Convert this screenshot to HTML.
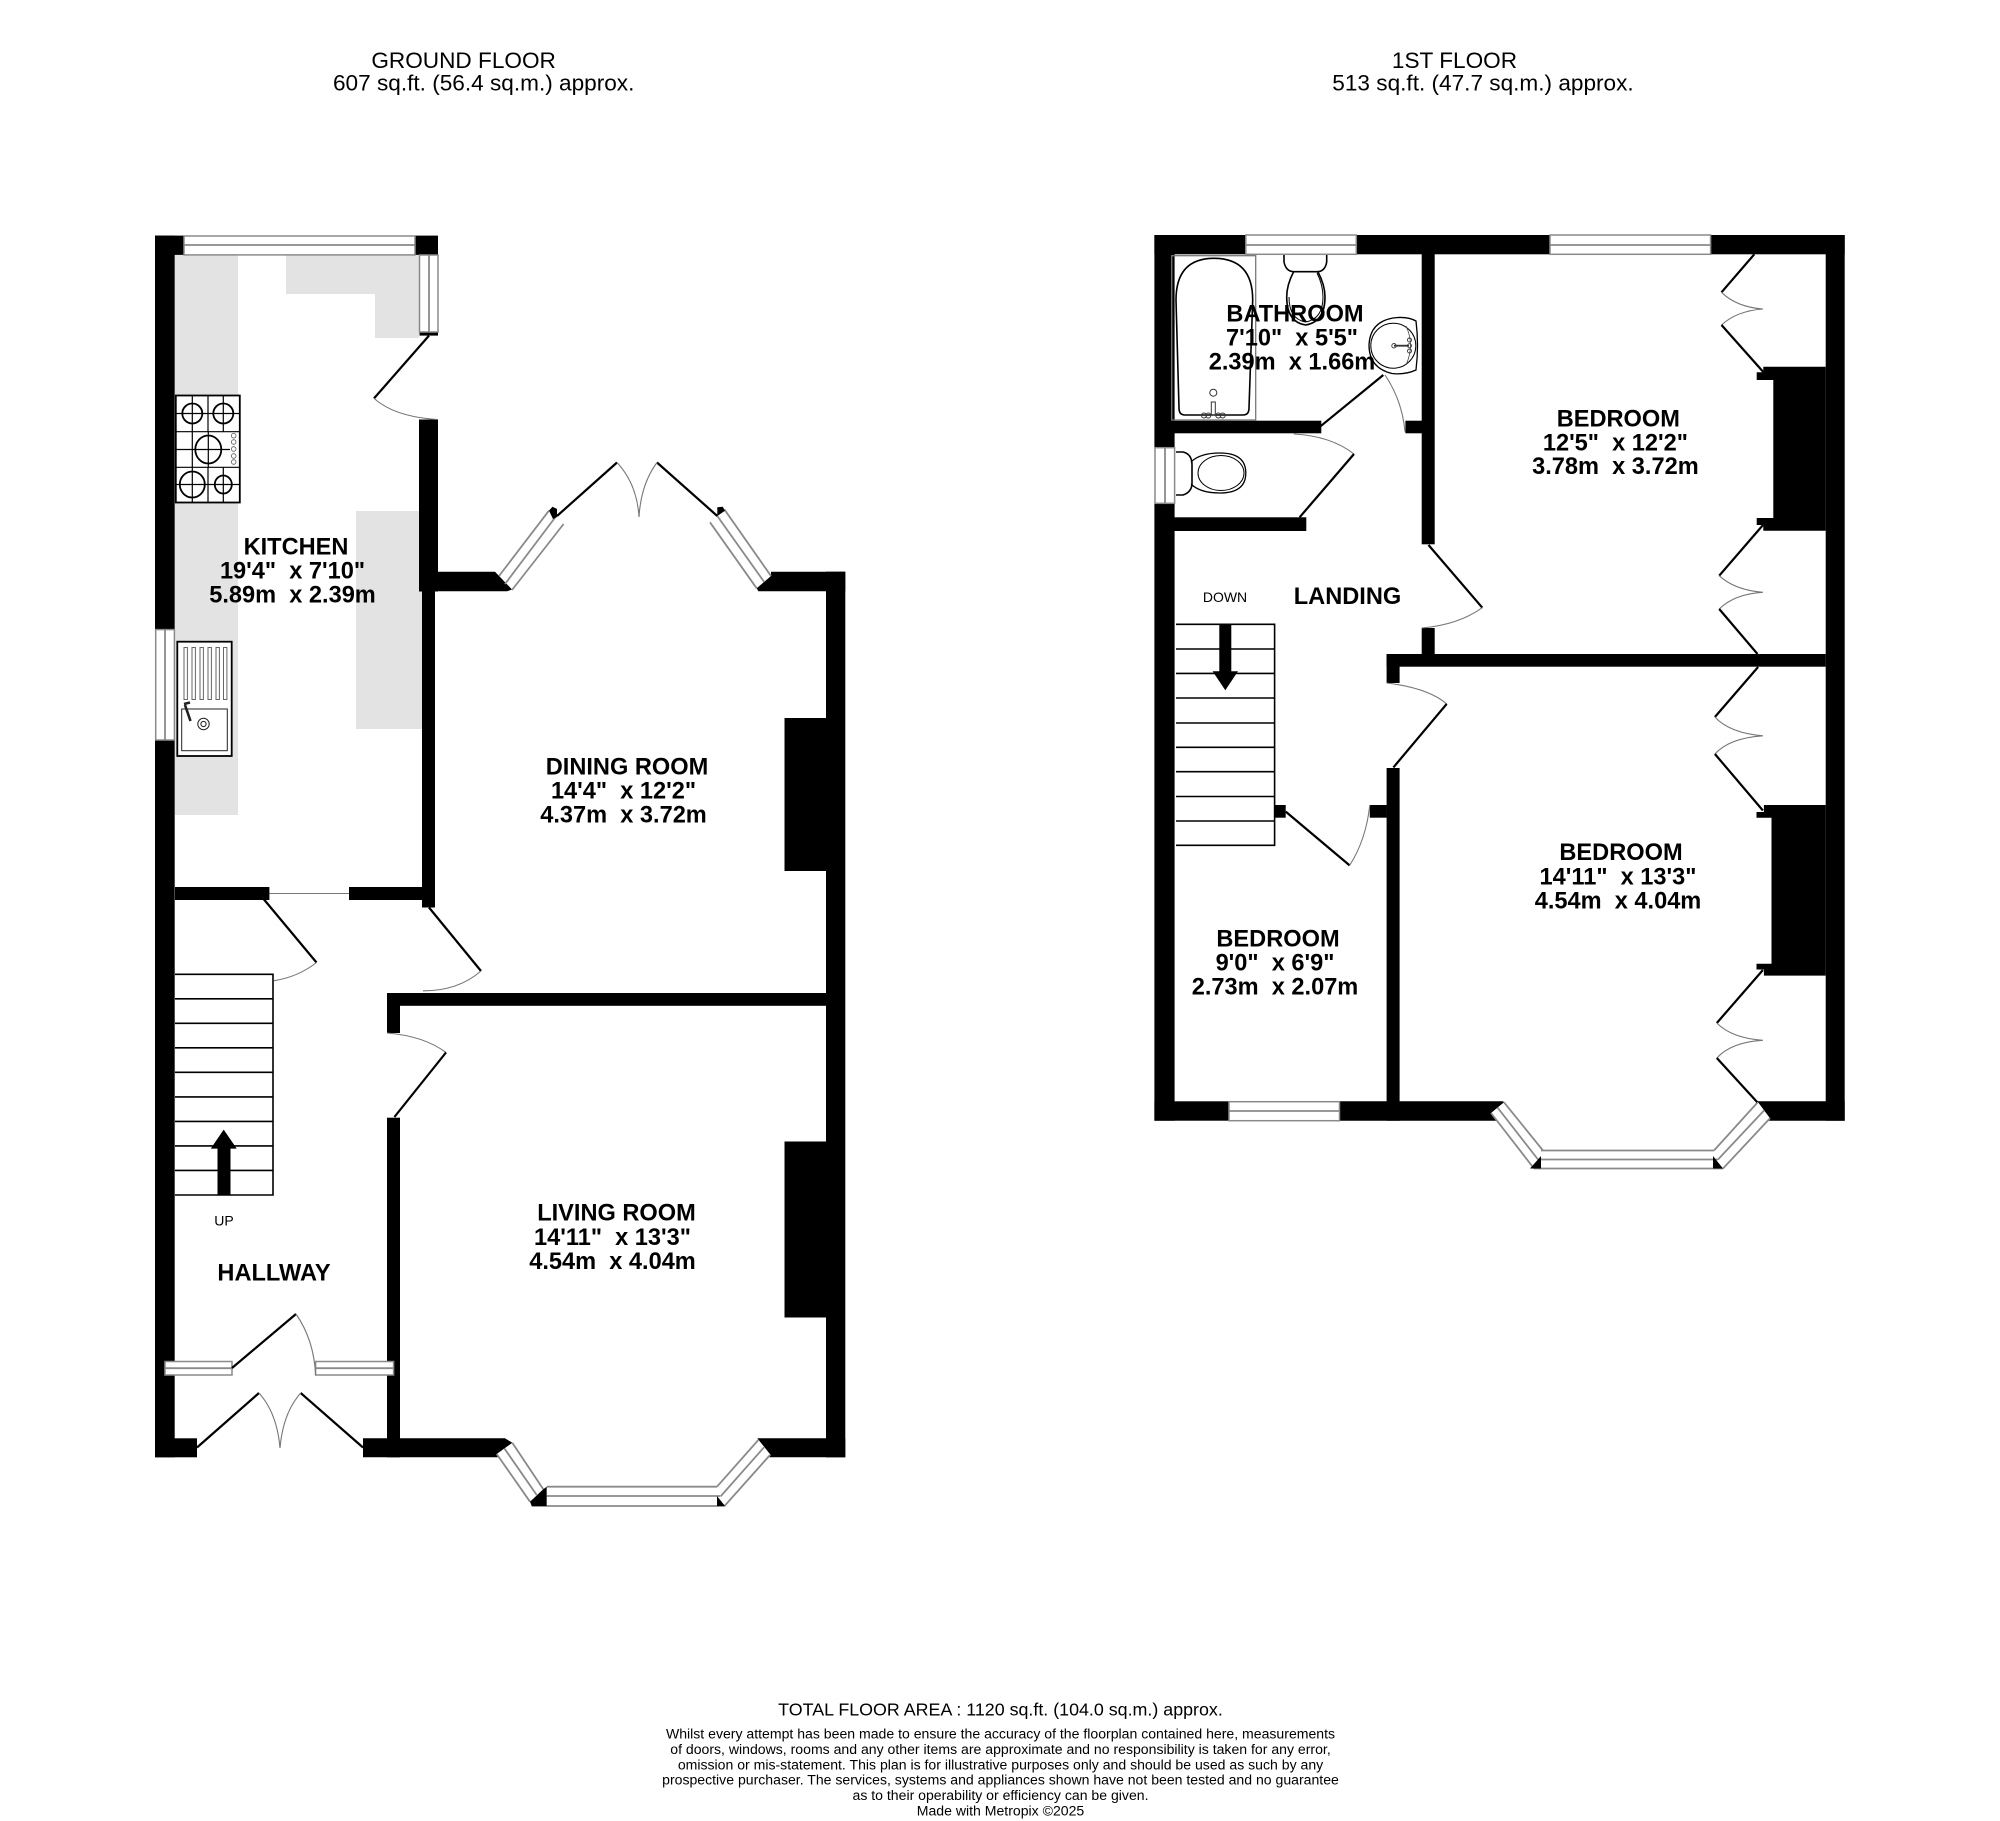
<!DOCTYPE html>
<html><head><meta charset="utf-8">
<style>
html,body{margin:0;padding:0;background:#fff}
svg{display:block}
text{font-family:"Liberation Sans",sans-serif;fill:#000;text-anchor:middle;white-space:pre}
.b{font-weight:bold;font-size:23.6px}
.t{font-size:22.6px}
.f{font-size:17.85px}
.d{font-size:14.07px}
.s{font-size:14px}
.w{fill:#fff;stroke:#8a8a8a;stroke-width:1.5}
.m{fill:none;stroke:#8a8a8a;stroke-width:1.8}
.l{fill:none;stroke:#000;stroke-width:2.2}
.a{fill:none;stroke:#777;stroke-width:1.1}
.n{fill:none;stroke:#000;stroke-width:1.6}
.h{fill:none;stroke:#000;stroke-width:1.8}
.g{fill:none;stroke:#000;stroke-width:1.2}
</style></head><body>
<svg width="2000" height="1821" viewBox="0 0 2000 1821" xmlns="http://www.w3.org/2000/svg">
<rect width="2000" height="1821" fill="#fff"/>

<!-- titles -->
<text class="t" x="463.6" y="68">GROUND FLOOR</text>
<text class="t" x="483.7" y="90.5">607 sq.ft. (56.4 sq.m.) approx.</text>
<text class="t" x="1454.5" y="68">1ST FLOOR</text>
<text class="t" x="1483" y="90.5">513 sq.ft. (47.7 sq.m.) approx.</text>

<!-- kitchen counters -->
<g fill="#e3e3e3">
<rect x="175" y="255" width="63" height="560"/>
<path d="M286 255H419V338H375V294H286Z"/>
<rect x="356" y="511" width="66" height="218"/>
</g>

<!-- GROUND FLOOR walls -->
<g fill="#000">
<rect x="155" y="235.6" width="19.7" height="394"/>
<rect x="155" y="740" width="19.7" height="717.3"/>
<rect x="155" y="235.6" width="29" height="19.3"/>
<rect x="415" y="235.6" width="23" height="19.3"/>
<rect x="419.5" y="332" width="18.5" height="3.6"/>
<rect x="419" y="419.5" width="19" height="172"/>
<rect x="422" y="590" width="13" height="317.5"/>
<path d="M435 571.7H495L512 589.5L507 591.3H435Z"/>
<path d="M771 571.7H845.3V591.3H758.3L756.7 588.3L771 576Z"/>
<rect x="826" y="571.7" width="19.3" height="885.6"/>
<rect x="784.5" y="718" width="41.5" height="153"/>
<rect x="784.5" y="1141.5" width="41.5" height="176"/>
<rect x="175" y="887" width="94.4" height="13"/>
<rect x="349" y="887" width="73" height="13"/>
<rect x="387" y="993" width="439" height="12.8"/>
<rect x="387" y="993" width="13" height="40"/>
<rect x="387" y="1117.7" width="13" height="339.6"/>
<rect x="155" y="1438.3" width="42" height="19"/>
<path d="M363 1438.3H505L512.3 1442.7L496.7 1454L498 1457.3H363Z"/>
<path d="M757.3 1438.3H845.3V1457.3H769.3L770.7 1455Z"/>
</g>

<!-- ground floor windows -->
<rect class="w" x="184" y="236" width="231" height="18.9"/>
<line class="m" x1="184" y1="245" x2="415" y2="245"/>
<rect class="w" x="419.5" y="255" width="18.5" height="77"/>
<line class="m" x1="429" y1="255" x2="429" y2="332"/>
<rect class="w" x="155.7" y="629.6" width="18.7" height="110.4"/>
<line class="m" x1="165" y1="629.6" x2="165" y2="740"/>
<rect class="w" x="165" y="1361.5" width="67" height="13.5"/>
<line class="m" x1="165" y1="1368.2" x2="232" y2="1368.2"/>
<rect class="w" x="315.6" y="1361.5" width="78" height="13.5"/>
<line class="m" x1="315.6" y1="1368.2" x2="393.6" y2="1368.2"/>
<!-- dining bay side windows -->
<path class="m" d="M499 576L549 510.6M505 584L555.5 517M512 590L563.6 524"/>
<path class="m" d="M771 576L724.3 509.3M764 581.7L717.3 516M756.7 588.3L710 522.3"/>
<!-- living bay -->
<path class="m" d="M512.3 1442.7L543.3 1489.3M504.3 1448.3L536.7 1495M496.7 1454L530 1501.7"/>
<path class="m" d="M546.7 1486.7H717M546.7 1496H720M531.7 1506H724.5"/>
<path class="m" d="M758.3 1440L717 1486.7M764 1447.3L720.5 1496.5M770 1455L724.5 1506"/>
<g fill="#000">
<path d="M543.3 1489.3L546.7 1486.7V1506H531.7L530 1501.7Z"/>
<path d="M717 1496V1506H725L721 1501Z"/>
<path d="M549 510.6L552.5 506.7L557 509L557 517L553 519Z"/>
<path d="M717.3 507.3L722.7 506.7L725 510.7L717.3 516Z"/>
</g>
<line class="a" x1="269.4" y1="893.5" x2="349" y2="893.5"/>

<!-- ground doors -->
<path class="l" d="M429 335.6L374 398.4"/>
<path class="a" d="M374 398.4Q395 417 438 419.5"/>
<path class="l" d="M557 516L617 462.5"/>
<path class="a" d="M617 462.5Q637 484 639 517"/>
<path class="l" d="M717.3 516L657 462.5"/>
<path class="a" d="M657 462.5Q641 484 639 517"/>
<path class="l" d="M263.6 899L316.5 962.5"/>
<path class="a" d="M316.5 962.5Q298 977 274 980.7"/>
<path class="l" d="M429 907.5L481 971"/>
<path class="a" d="M481 971Q458 991 423 990.8"/>
<path class="a" d="M387 1033Q424 1036 446 1052.5"/>
<path class="l" d="M446 1052.5L394.4 1117"/>
<path class="l" d="M232 1368L296 1314"/>
<path class="a" d="M296 1314Q314 1340 315.6 1375"/>
<path class="l" d="M197 1447.5L259 1393"/>
<path class="a" d="M259 1393Q277 1413 280 1448"/>
<path class="l" d="M363 1447.5L300.7 1393"/>
<path class="a" d="M300.7 1393Q283 1413 280 1448"/>

<!-- ground stairs -->
<g stroke="#000" stroke-width="1.6" fill="none">
<path d="M175 974.3H273V1195H175"/>
<path d="M175 998.8H273M175 1023.3H273M175 1047.8H273M175 1072.3H273M175 1096.9H273M175 1121.4H273M175 1145.9H273M175 1170.4H273"/>
</g>
<path d="M217.5 1195V1148.6H210.8L223.7 1129.6L236.7 1148.6H230.5V1195Z" fill="#000"/>

<!-- hob -->
<g>
<rect x="175.8" y="395.5" width="64" height="107" fill="#fff" stroke="#000" stroke-width="1.8"/>
<path class="g" d="M176 431.7H240M176 467.3H240M176 413.5H240M176 449.5H230M176 484.5H240M208 396V431.7M208 467.3V503M192.3 396V503M223.3 396V431.7M223.3 467.3V503M208.3 431.7V467.3"/>
<circle class="h" cx="192.3" cy="413.5" r="10"/>
<circle class="h" cx="223.3" cy="413.5" r="10"/>
<ellipse class="h" cx="208.3" cy="449.5" rx="13" ry="14"/>
<ellipse class="h" cx="192.3" cy="484.5" rx="12.5" ry="13"/>
<ellipse class="h" cx="223.3" cy="484.5" rx="8.5" ry="9"/>
<g fill="#fff" stroke="#555" stroke-width=".8">
<circle cx="233.7" cy="435.7" r="2.3"/><circle cx="233.7" cy="442" r="2.3"/><circle cx="233.7" cy="449" r="2.3"/><circle cx="233.7" cy="456" r="2.3"/><circle cx="233.7" cy="462" r="2.3"/>
</g>
</g>

<!-- sink -->
<g>
<rect x="177.3" y="641.7" width="54.4" height="114.3" fill="#fff" stroke="#000" stroke-width="1.8"/>
<g fill="none" stroke="#666" stroke-width="1">
<rect x="184" y="647.5" width="3.4" height="52"/>
<rect x="192" y="647.5" width="3.4" height="52"/>
<rect x="200" y="647.5" width="3.4" height="52"/>
<rect x="208" y="647.5" width="3.4" height="52"/>
<rect x="216" y="647.5" width="3.4" height="52"/>
<rect x="223.5" y="647.5" width="3.4" height="52"/>
</g>
<rect x="181.7" y="709" width="45.6" height="41.7" fill="#fff" stroke="#222" stroke-width="1"/>
<circle cx="203.5" cy="724" r="5.7" fill="none" stroke="#222"/>
<circle cx="203.5" cy="724" r="2.6" fill="none" stroke="#222"/>
<path d="M184 704L190 702.5M185 705L190.5 721" stroke="#222" stroke-width="2.6" fill="none"/>
</g>

<!-- ground labels -->
<text class="b" x="296" y="554.5">KITCHEN</text>
<text class="b" x="292.5" y="578.5">19'4"  x 7'10"</text>
<text class="b" x="292.5" y="602.5">5.89m  x 2.39m</text>
<text class="b" x="627" y="774.5">DINING ROOM</text>
<text class="b" x="623.5" y="798.5">14'4"  x 12'2"</text>
<text class="b" x="623.5" y="822.5">4.37m  x 3.72m</text>
<text class="b" x="616.5" y="1220.5">LIVING ROOM</text>
<text class="b" x="612.5" y="1245">14'11"  x 13'3"</text>
<text class="b" x="612.5" y="1269">4.54m  x 4.04m</text>
<text class="b" x="274" y="1280.5">HALLWAY</text>
<text class="s" x="224" y="1225.5">UP</text>

<!-- FIRST FLOOR walls -->
<g fill="#000">
<rect x="1154.4" y="235" width="20.2" height="212.7"/>
<rect x="1154.4" y="503.3" width="20.2" height="617.4"/>
<rect x="1825.7" y="235" width="19" height="885.7"/>
<rect x="1154.4" y="235" width="91.4" height="19.3"/>
<rect x="1356.3" y="235" width="193.7" height="19.3"/>
<rect x="1710.6" y="235" width="134.1" height="19.3"/>
<rect x="1421.7" y="235" width="13" height="309.3"/>
<rect x="1421.7" y="628" width="13" height="30"/>
<rect x="1174" y="420.7" width="147.3" height="12.6"/>
<rect x="1405.4" y="420.7" width="17" height="12.6"/>
<rect x="1174" y="517.3" width="132.3" height="13.7"/>
<rect x="1386.6" y="654" width="439.1" height="12.7"/>
<rect x="1386.6" y="654" width="13" height="29"/>
<rect x="1386.6" y="768" width="13" height="352.7"/>
<rect x="1274.6" y="805" width="11.1" height="12.7"/>
<rect x="1369.8" y="805" width="17" height="12.7"/>
<!-- chimney 1 -->
<path d="M1763.3 366.7H1825.7V530.7H1763.3V525H1756.7V518H1773.3V380H1756.7V372.3H1763.3Z"/>
<!-- chimney 2 -->
<path d="M1763.9 805H1825.7V975.6H1763.9V969.5H1756.5V963.8H1771.5V817.7H1756.5V812H1763.9Z"/>
<rect x="1154.4" y="1101.3" width="74.6" height="19.4"/>
<path d="M1339.5 1101.3H1503L1504 1102.3L1491 1113L1497 1120.7H1339.5Z"/>
<path d="M1757.3 1101.3H1844.7V1120.7H1767.5L1770 1118.3Z"/>
</g>

<!-- first floor windows -->
<rect class="w" x="1245.8" y="235" width="110.5" height="19.3"/>
<line class="m" x1="1245.8" y1="245" x2="1356.3" y2="245"/>
<rect class="w" x="1550" y="235" width="160.6" height="19.3"/>
<line class="m" x1="1550" y1="245" x2="1710.6" y2="245"/>
<rect class="w" x="1155" y="447.7" width="19.6" height="55.6"/>
<line class="m" x1="1165" y1="447.7" x2="1165" y2="503.3"/>
<rect class="w" x="1229" y="1101.7" width="110.5" height="19"/>
<line class="m" x1="1229" y1="1111" x2="1339.5" y2="1111"/>
<path class="m" d="M1504 1102.3L1543 1150.5M1497.5 1107.5L1538 1159.5M1491 1113L1534 1168.5"/>
<path class="m" d="M1541 1150.5H1714M1538 1159.5H1718M1534 1168.5H1723"/>
<path class="m" d="M1757.5 1102.5L1714 1150.5M1764 1110.5L1718 1159.5M1770 1118.3L1723 1168.5"/>
<path d="M1541 1156V1168.5H1530Z M1713 1156V1168.5H1723Z" fill="#000"/>

<!-- first floor doors -->
<path class="l" d="M1320 426.7L1383.3 375"/>
<path class="a" d="M1385 375Q1402 400 1405 431.7"/>
<path class="a" d="M1293.8 434Q1331 436 1354 454"/>
<path class="l" d="M1354 454L1299.6 517.3"/>
<path class="l" d="M1428.5 545L1482.3 607.7"/>
<path class="a" d="M1482.3 607.7Q1458 625 1421.7 628"/>
<path class="a" d="M1386.6 683Q1428 688 1446.7 703.9"/>
<path class="l" d="M1446.7 703.9L1393.4 767.4"/>
<path class="l" d="M1285.7 811.6L1349.6 865.4"/>
<path class="a" d="M1349.6 865.4Q1366 840 1369.8 805"/>
<path class="l" d="M1754.3 254.3L1721.5 292.3"/>
<path class="a" d="M1721.5 292.3Q1736.5 307 1762.9 309Q1736.5 311 1721.5 325"/>
<path class="l" d="M1721.5 325L1763.3 372"/>
<path class="l" d="M1763 525L1719.2 575.7"/>
<path class="a" d="M1719.2 575.7Q1734.5 590 1762.9 592.3Q1734.5 594 1719.2 609"/>
<path class="l" d="M1719.2 609L1757.5 654"/>
<path class="l" d="M1758.1 667L1714.9 717"/>
<path class="a" d="M1714.9 717Q1729.5 733 1762.9 735.8Q1729.5 738 1714.9 754"/>
<path class="l" d="M1714.9 754L1762.9 810.5"/>
<path class="l" d="M1762.9 970L1716.8 1023"/>
<path class="a" d="M1716.8 1023Q1731.5 1038 1762.9 1040.3Q1731.5 1042 1716.8 1058"/>
<path class="l" d="M1716.8 1058L1757.3 1102.3"/>

<!-- first floor stairs -->
<g stroke="#000" stroke-width="1.6" fill="none">
<path d="M1176 624.3H1274.6V845.3H1176"/>
<path d="M1176 649H1274.6M1176 673.4H1274.6M1176 698H1274.6M1176 723H1274.6M1176 747.3H1274.6M1176 771.7H1274.6M1176 796.5H1274.6M1176 821H1274.6"/>
</g>
<path d="M1219.3 624.3H1231.3V671.2H1238L1225.3 690.3L1212.6 671.2H1219.3Z" fill="#000"/>

<!-- bath -->
<rect x="1171.7" y="255.7" width="84" height="164.3" fill="none" stroke="#777" stroke-width="1.3"/>
<path class="n" d="M1176 300Q1176 258.3 1214 258.3Q1252.7 258.3 1252.7 300L1249 408Q1249 415 1243 415H1185Q1179 415 1179 408Z"/>
<circle cx="1213.3" cy="392.7" r="3.5" fill="none" stroke="#333" stroke-width="1"/>
<rect x="1211.3" y="402" width="4" height="13" fill="none" stroke="#333"/>
<g fill="none" stroke="#333" stroke-width="1">
<circle cx="1204" cy="415.5" r="2.5"/><circle cx="1208.3" cy="415.5" r="2.5"/><circle cx="1218.3" cy="415.5" r="2.5"/><circle cx="1222.7" cy="415.5" r="2.5"/>
</g>
<!-- bath toilet -->
<path class="n" d="M1284 255V262Q1286 271.7 1294 271.7H1317Q1325 271.7 1326.7 262V255"/>
<path class="n" d="M1293.5 272Q1286.7 285 1286.7 297Q1286.7 322 1305.5 325Q1325 322 1325 297Q1325 285 1318 272"/>
<path class="n" d="M1289 297Q1289 319 1305.5 322Q1323 319 1323 297Q1323 285 1317 273" style="stroke-width:1"/>
<!-- basin -->
<path class="n" d="M1393 318Q1407 316 1416 321Q1419 345 1416 370Q1405 375 1392 373.5Q1369 368 1369 345Q1370 322 1393 318Z" style="stroke-width:1.3"/>
<circle cx="1393.3" cy="345.7" r="22.5" fill="none" stroke="#000" stroke-width="1"/>
<path d="M1406 326Q1415 345 1406 365" fill="none" stroke="#444" stroke-width=".8"/>
<path d="M1394 345.7H1409" stroke="#333" stroke-width="1.8"/>
<g fill="none" stroke="#333" stroke-width=".9"><circle cx="1394" cy="345.7" r="2.2"/><circle cx="1409.5" cy="340" r="2"/><circle cx="1409.5" cy="345.7" r="2"/><circle cx="1409.5" cy="351" r="2"/></g>
<!-- WC toilet -->
<path class="n" d="M1176 452H1183Q1192 454 1192 465V483Q1192 492 1183 495H1176"/>
<path class="n" d="M1191 462Q1200 453 1220 453Q1245.8 453 1245.8 473Q1245.8 493 1220 493Q1200 493 1191 484" style="stroke-width:1.3"/>
<ellipse cx="1221" cy="473" rx="23" ry="17.5" fill="none" stroke="#000" stroke-width="1"/>

<!-- first floor labels -->
<text class="b" x="1295" y="321.5">BATHROOM</text>
<text class="b" x="1292" y="345.5">7'10"  x 5'5"</text>
<text class="b" x="1292" y="369.5">2.39m  x 1.66m</text>
<text class="b" x="1618.3" y="426.5">BEDROOM</text>
<text class="b" x="1615.4" y="450.5">12'5"  x 12'2"</text>
<text class="b" x="1615.4" y="474">3.78m  x 3.72m</text>
<text class="b" x="1621" y="860">BEDROOM</text>
<text class="b" x="1618" y="884.5">14'11"  x 13'3"</text>
<text class="b" x="1618" y="908.5">4.54m  x 4.04m</text>
<text class="b" x="1278" y="946.5">BEDROOM</text>
<text class="b" x="1275" y="970.5">9'0"  x 6'9"</text>
<text class="b" x="1275" y="994.5">2.73m  x 2.07m</text>
<text class="b" x="1347.5" y="604">LANDING</text>
<text class="s" x="1225" y="602">DOWN</text>

<!-- footer -->
<text class="f" x="1000.5" y="1715.5">TOTAL FLOOR AREA : 1120 sq.ft. (104.0 sq.m.) approx.</text>
<text class="d" x="1000.5" y="1738.5">Whilst every attempt has been made to ensure the accuracy of the floorplan contained here, measurements</text>
<text class="d" x="1000.5" y="1753.9">of doors, windows, rooms and any other items are approximate and no responsibility is taken for any error,</text>
<text class="d" x="1000.5" y="1769.3">omission or mis-statement. This plan is for illustrative purposes only and should be used as such by any</text>
<text class="d" x="1000.5" y="1784.7">prospective purchaser. The services, systems and appliances shown have not been tested and no guarantee</text>
<text class="d" x="1000.5" y="1800.1">as to their operability or efficiency can be given.</text>
<text class="d" x="1000.5" y="1815.5">Made with Metropix ©2025</text>
</svg>
</body></html>
